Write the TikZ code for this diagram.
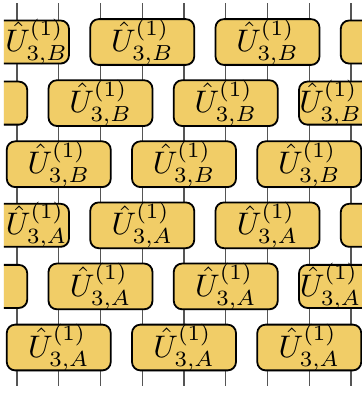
\documentclass[tikz,border=0pt]{standalone}
\usepackage{fix-cm}
\usetikzlibrary{shadows}
\definecolor{gateYellow}{HTML}{F1CD67}
\definecolor{wireGray}{HTML}{555555}
\tikzset{
  gate/.style={rectangle, rounded corners=2.8pt, draw=black, semithick,
               fill=gateYellow, minimum width=1.22cm, minimum height=0.505cm,
               inner sep=0pt,
               drop shadow={shadow xshift=0.2pt, shadow yshift=-0.4pt, opacity=0.2}},
  gatetext/.style={inner sep=0pt},
  wire/.style={wireGray, thin},
}
\newcommand{\gatelab}[1]{$\hat{U}^{(1)}_{3,#1}$}

\begin{document}
\begin{tikzpicture}[x=0.01174cm, y=-0.01174cm, font=\fontsize{10.4}{12.5}\selectfont]
  \useasboundingbox (0,0) rectangle (362,393);
  % wires
  \foreach \k in {0,...,8} {
    \coordinate (top\k) at (17+41.75*\k, 3);
    \coordinate (bot\k) at (17+41.75*\k, 386);
    \draw[wire] (top\k) -- (bot\k);
  }
  % gates, cut off at the left and right edge
  \begin{scope}
    \clip (4,0) rectangle (362,393);
    \foreach \lab/\y in {B/42,A/225.3} {
      \pgfmathsetmacro\ya{\y}
      \pgfmathsetmacro\yb{\y+61.1}
      \pgfmathsetmacro\yc{\y+122.2}
      % first row: on wires 0,3,6,9
      \node[gate] (g\lab1a) at (17,\ya) {};
      \node[gatetext] (t\lab1a) at (36.5,\ya) {\gatelab{\lab}};
      \node[gate] (g\lab1b) at (142.25,\ya) {\gatelab{\lab}};
      \node[gate] (g\lab1c) at (267.5,\ya) {\gatelab{\lab}};
      \node[gate] (g\lab1d) at (392.75,\ya) {};
      % second row: on wires -1,2,5,8
      \node[gate] (g\lab2a) at (-24.75,\yb) {};
      \node[gate] (g\lab2b) at (100.5,\yb) {\gatelab{\lab}};
      \node[gate] (g\lab2c) at (225.75,\yb) {\gatelab{\lab}};
      \node[gate] (g\lab2d) at (351,\yb) {};
      \node[gatetext] (t\lab2d) at (330.5,\yb) {\gatelab{\lab}};
      % third row: on wires 1,4,7
      \node[gate] (g\lab3a) at (58.75,\yc) {\gatelab{\lab}};
      \node[gate] (g\lab3b) at (184,\yc) {\gatelab{\lab}};
      \node[gate] (g\lab3c) at (309.25,\yc) {\gatelab{\lab}};
    }
  \end{scope}
\end{tikzpicture}
\end{document}
